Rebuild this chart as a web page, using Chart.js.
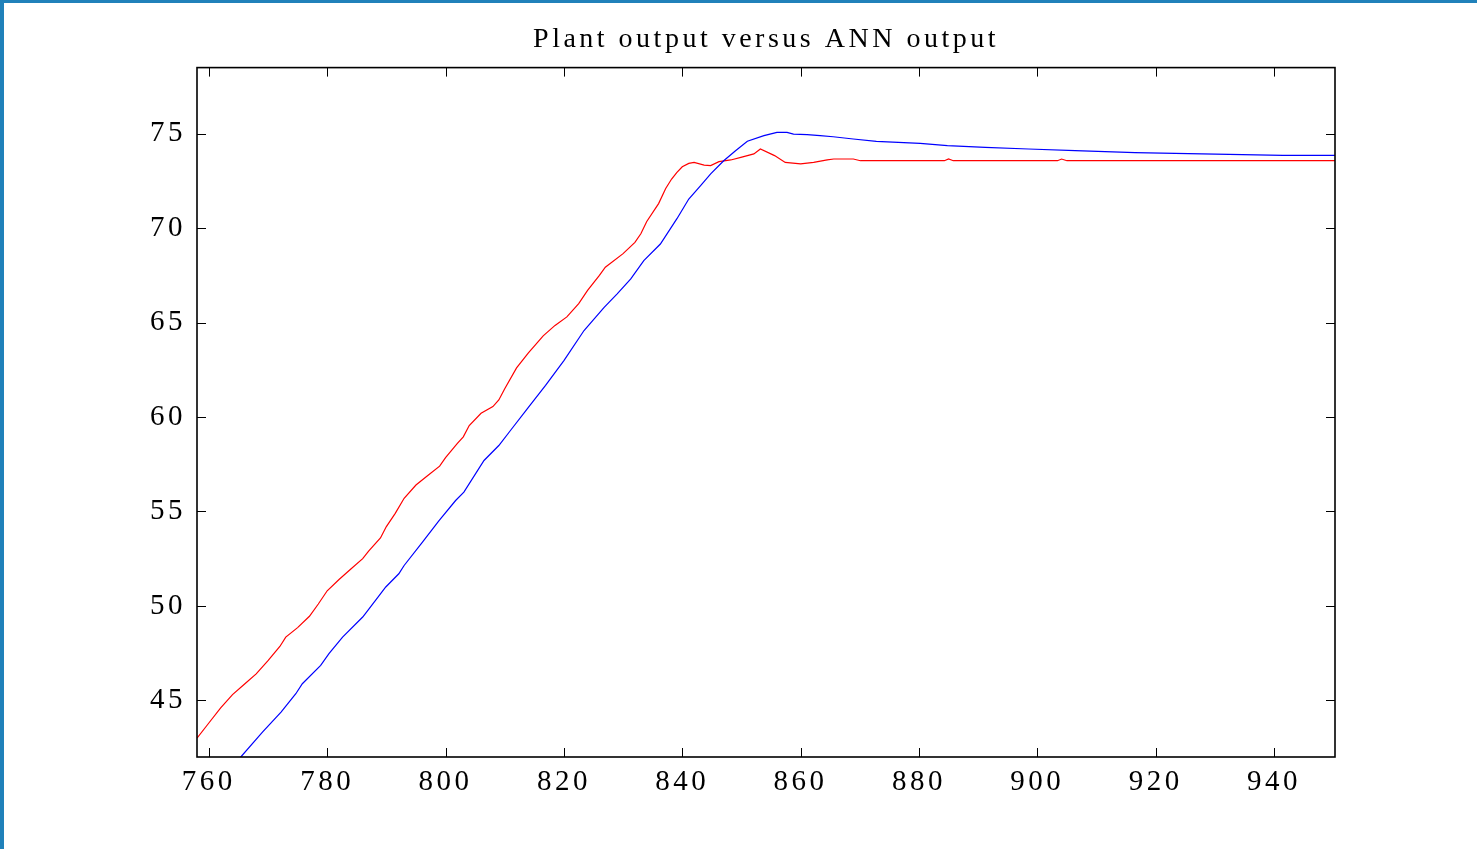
<!DOCTYPE html>
<html>
<head>
<meta charset="utf-8">
<script src="https://cdn.jsdelivr.net/npm/chart.js@4.4.1/dist/chart.umd.min.js"></script>
<style>
  html, body { margin: 0; padding: 0; background: #fff; }
  #wrap { position: relative; width: 1477px; height: 849px; overflow: hidden; }
  #topbar { position: absolute; left: 0; top: 0; width: 1477px; height: 3px; background: #2081BA; }
  #leftbar { position: absolute; left: 0; top: 0; width: 4px; height: 849px; background: #2081BA; }
  canvas { position: absolute; left: 0; top: 0; }
</style>
</head>
<body>
<div id="wrap">
  <canvas id="c"></canvas>
  <div id="topbar"></div>
  <div id="leftbar"></div>
</div>
<script>
const titleText = "Plant output versus ANN output";

// Plant output (red)
const redX = [758, 760, 762, 764, 766, 768, 770, 772, 773, 775, 777, 778.5, 780, 782, 784, 786, 787, 789, 790, 791.5,
  793, 795, 797, 799, 800, 802, 803, 804, 806, 808, 809, 810, 812, 814, 816.5, 818.5, 820.5, 822.5, 824, 826,
  827, 830, 832, 833, 834, 836, 837.2, 838.2, 839.1, 840, 841.1, 842, 843.7, 844.8, 846.2, 848.2, 849.9, 852.1, 853.2, 855.6,
  857.4, 860, 862.2, 864.5, 865.6, 868.9, 870.1, 884.3, 885, 885.8, 903.4, 904.1, 905, 950.3];
const redY = [43.0, 43.8, 44.6, 45.3, 45.85, 46.4, 47.1, 47.85, 48.35, 48.85, 49.45, 50.1, 50.8, 51.4, 51.95, 52.5, 52.9, 53.6, 54.2, 54.9,
  55.7, 56.4, 56.9, 57.4, 57.85, 58.6, 58.95, 59.55, 60.2, 60.55, 60.9, 61.5, 62.6, 63.4, 64.3, 64.85, 65.3, 66.0, 66.7, 67.5,
  67.93, 68.65, 69.25, 69.7, 70.35, 71.3, 72.1, 72.6, 72.95, 73.25, 73.43, 73.48, 73.34, 73.31, 73.52, 73.61, 73.75, 73.93, 74.19, 73.84,
  73.48, 73.4, 73.48, 73.61, 73.66, 73.66, 73.57, 73.57, 73.66, 73.57, 73.57, 73.66, 73.57, 73.57];

// ANN output (blue)
const blueX = [763, 765.4, 769.1, 772.2, 774.7, 775.8, 778.9, 780.3, 782.6, 786, 787.1, 789.9, 792.1, 793, 796.1, 798.9, 801.7, 803.1, 806.5, 809,
  811, 813.8, 816.9, 820, 823.4, 826.8, 829, 831.3, 833.5, 836.3, 839.1, 841.1, 843.1, 844.8, 847, 849, 851, 853.8, 856, 857.7,
  858.8, 861.1, 863.3, 865.5, 868.9, 872.8, 880.2, 884.8, 891.2, 898.5, 906.4, 916.5, 927.8, 941.5, 950.3];
const blueY = [41.1, 42.0, 43.33, 44.38, 45.35, 45.88, 46.85, 47.47, 48.35, 49.41, 49.85, 51.0, 51.7, 52.14, 53.38, 54.52, 55.58, 56.02, 57.7, 58.49,
  59.3, 60.43, 61.67, 62.99, 64.58, 65.81, 66.52, 67.31, 68.28, 69.16, 70.5, 71.54, 72.25, 72.87, 73.57, 74.1, 74.6, 74.9, 75.07, 75.07,
  74.98, 74.95, 74.9, 74.84, 74.72, 74.59, 74.49, 74.37, 74.28, 74.19, 74.1, 74.0, 73.93, 73.85, 73.85];

const xMin = 758, xMax = 950.3, xStep = 20;
const yMin = 42, yMax = 78.5, yStep = 5;

const redPts = redX.map((x, i) => ({x, y: redY[i]}));
const bluePts = blueX.map((x, i) => ({x, y: blueY[i]}));

const SPACING = '3.5px';
const spacingPlugin = {
  id: 'spacing',
  beforeUpdate(chart) { chart.ctx.letterSpacing = SPACING; },
  beforeLayout(chart) { chart.ctx.letterSpacing = SPACING; },
  beforeDraw(chart) { chart.ctx.letterSpacing = SPACING; }
};

const framePlugin = {
  id: 'frame',
  afterDatasetsDraw(chart) {
    const {ctx, chartArea: a, scales: {x, y}} = chart;
    const L = 9;
    ctx.save();
    ctx.strokeStyle = '#000';
    ctx.lineWidth = 1;
    ctx.beginPath();
    x.ticks.forEach((t, i) => {
      const px = Math.round(x.getPixelForTick(i)) + 0.5;
      ctx.moveTo(px, a.bottom); ctx.lineTo(px, a.bottom - L);
      ctx.moveTo(px, a.top); ctx.lineTo(px, a.top + L);
    });
    y.ticks.forEach((t, i) => {
      const py = Math.round(y.getPixelForTick(i)) + 0.5;
      ctx.moveTo(a.left, py); ctx.lineTo(a.left + L, py);
      ctx.moveTo(a.right, py); ctx.lineTo(a.right - L, py);
    });
    ctx.stroke();
    ctx.lineWidth = 1.6;
    ctx.strokeRect(a.left, a.top, a.right - a.left, a.bottom - a.top);
    ctx.restore();
  }
};

new Chart(document.getElementById('c'), {
  type: 'line',
  data: {
    datasets: [
      { label: 'ANN output', data: bluePts, borderColor: '#0000ff', borderWidth: 1.2, pointRadius: 0, tension: 0 },
      { label: 'Plant output', data: redPts, borderColor: '#ff0000', borderWidth: 1.2, pointRadius: 0, tension: 0 }
    ]
  },
  plugins: [spacingPlugin, framePlugin],
  options: {
    responsive: true,
    maintainAspectRatio: false,
    animation: false,
    events: [],
    layout: { padding: { left: 0, right: 142, top: 0, bottom: 0 } },
    plugins: {
      legend: { display: false },
      tooltip: { enabled: false },
      title: {
        display: true,
        text: titleText,
        fullSize: false,
        color: '#000',
        font: { family: '"Liberation Serif", "Times New Roman", serif', size: 28, weight: 'normal' },
        padding: { top: 23, bottom: 11 }
      }
    },
    scales: {
      x: {
        type: 'linear',
        min: xMin, max: xMax,
        grid: { drawOnChartArea: false, drawTicks: false },
        border: { display: false },
        afterFit(scale) { scale.height = 92; },
        ticks: {
          stepSize: xStep,
          includeBounds: false,
          color: '#000',
          padding: 8,
          maxRotation: 0,
          font: { family: '"Liberation Serif", "Times New Roman", serif', size: 29 }
        }
      },
      y: {
        type: 'linear',
        min: yMin, max: yMax,
        grid: { drawOnChartArea: false, drawTicks: false },
        border: { display: false },
        afterFit(scale) { scale.width = 197; },
        ticks: {
          stepSize: yStep,
          includeBounds: false,
          color: '#000',
          padding: 11,
          font: { family: '"Liberation Serif", "Times New Roman", serif', size: 29 }
        }
      }
    }
  }
});
</script>
</body>
</html>
